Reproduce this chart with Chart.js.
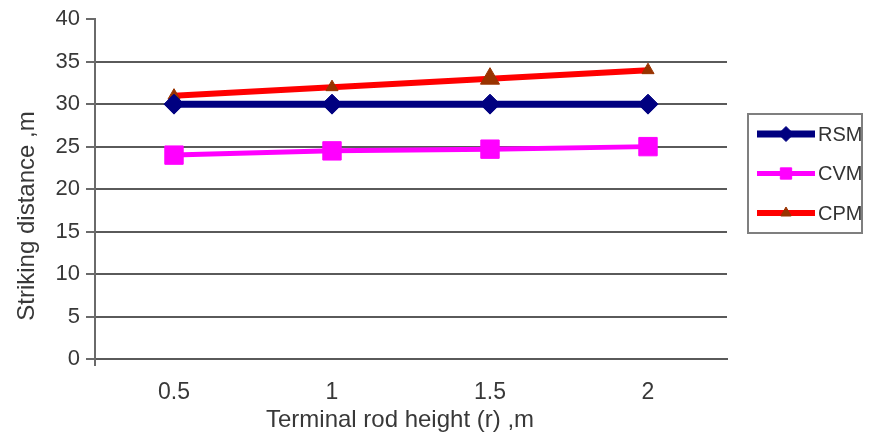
<!DOCTYPE html>
<html>
<head>
<meta charset="utf-8">
<script src="https://cdn.jsdelivr.net/npm/chart.js@4.4.0/dist/chart.umd.min.js"></script>
<style>
  body { margin: 0; background: #fff; }
  canvas { display: block; }
</style>
</head>
<body>
<canvas id="chart" width="876" height="437"></canvas>
<script>
// Chart data =====================================
const heights = ["0.5", "1", "1.5", "2"];
const rsm = [30, 30, 30, 30];
const cvm = [24.0, 24.5, 24.7, 25.0];
const cpm = [31.0, 32.0, 33.0, 34.0];
const yTicks = [0, 5, 10, 15, 20, 25, 30, 35, 40];

const xTitle = "Terminal rod height (r) ,m";
const yTitle = "Striking distance ,m";

Chart.defaults.font.family = "'Liberation Sans', Arial, sans-serif";
Chart.defaults.color = "#383838";

// Boxed legend + axis titles =====================
const legendRadius = [7.5, 8, 6];
const boxLegend = {
  id: "boxLegend",
  afterDraw(chart) {
    const ctx = chart.ctx;
    ctx.save();
    ctx.strokeStyle = "#7f7f7f";
    ctx.lineWidth = 2;
    ctx.strokeRect(748, 114, 114, 119);

    chart.data.datasets.forEach((ds, i) => {
      const y = 134 + i * 39.5;
      ctx.strokeStyle = ds.borderColor;
      ctx.lineWidth = ds.borderWidth;
      ctx.beginPath();
      ctx.moveTo(757, y);
      ctx.lineTo(815, y);
      ctx.stroke();

      ctx.fillStyle = ds.pointBackgroundColor;
      ctx.strokeStyle = ds.pointBorderColor;
      ctx.lineWidth = 1;
      Chart.helpers.drawPoint(ctx, {
        pointStyle: ds.pointStyle,
        radius: legendRadius[i],
        rotation: 0,
        borderWidth: 1,
      }, 786, y);

      ctx.fillStyle = "#333";
      ctx.font = "20px 'Liberation Sans', Arial, sans-serif";
      ctx.textAlign = "left";
      ctx.textBaseline = "middle";
      ctx.fillText(ds.label, 818, y + 1);
    });

    ctx.fillStyle = "#383838";
    ctx.font = "24px 'Liberation Sans', Arial, sans-serif";
    ctx.textAlign = "center";
    ctx.textBaseline = "middle";
    // x title sits a little left of the plot centre in the original
    ctx.fillText(xTitle, 400, 420);

    // y title, a bit below the plot centre
    ctx.translate(27, 216);
    ctx.rotate(-Math.PI / 2);
    ctx.fillText(yTitle, 0, 0);
    ctx.restore();
  },
};

const chart = new Chart(document.getElementById("chart"), {
  type: "line",
  data: {
    labels: heights,
    datasets: [
      {
        label: "RSM",
        data: rsm,
        borderColor: "#000080",
        backgroundColor: "#000080",
        borderWidth: 7,
        pointStyle: "rectRot",
        pointRadius: 10,
        pointBackgroundColor: "#000080",
        pointBorderColor: "#000080",
        pointBorderWidth: 1,
      },
      {
        label: "CVM",
        data: cvm,
        borderColor: "#ff00ff",
        backgroundColor: "#ff00ff",
        borderWidth: 5,
        pointStyle: "rect",
        pointRadius: 13,
        pointBackgroundColor: "#ff00ff",
        pointBorderColor: "#ff00ff",
        pointBorderWidth: 1,
      },
      {
        label: "CPM",
        data: cpm,
        borderColor: "#ff0000",
        backgroundColor: "#ff0000",
        borderWidth: 6,
        pointStyle: "triangle",
        pointRadius: [7, 7, 11, 7],
        pointBackgroundColor: "#993300",
        pointBorderColor: "#993300",
        pointBorderWidth: 1,
      },
    ],
  },
  options: {
    responsive: false,
    animation: false,
    layout: { padding: { left: 14, top: 17, right: 149, bottom: 0 } },
    plugins: {
      legend: { display: false },
      tooltip: { enabled: false },
    },
    scales: {
      x: {
        offset: true,
        grid: {
          offset: true,
          drawOnChartArea: false,
          tickLength: 7,
          lineWidth: 2,
          color: (c) => (c.index === 0 ? "#6a6a6a" : "rgba(0,0,0,0)"),
        },
        border: { color: "#5a5a5a", width: 2 },
        ticks: { font: { size: 23 }, padding: 13, maxRotation: 0 },
        afterFit(scale) {
          scale.height = 78;
        },
      },
      y: {
        min: 0,
        max: 40,
        afterBuildTicks(scale) {
          scale.ticks = yTicks.map((v) => ({ value: v }));
        },
        grid: {
          tickLength: 9,
          lineWidth: 2,
          color: (c) => (c.tick && c.tick.value === 40 ? "rgba(0,0,0,0)" : "#5a5a5a"),
          tickColor: "#6a6a6a",
        },
        border: { color: "#6a6a6a", width: 2 },
        ticks: { font: { size: 22 }, padding: 6 },
        afterFit(scale) {
          scale.width = 81;
        },
      },
    },
  },
  plugins: [boxLegend],
});
</script>
</body>
</html>
